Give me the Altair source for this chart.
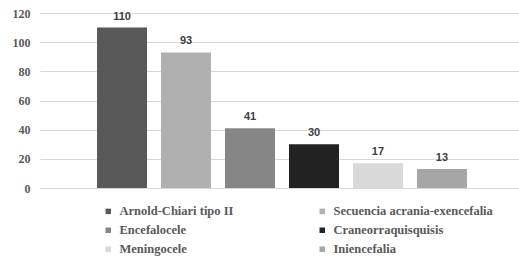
import altair as alt
import pandas as pd

categories = ["Arnold-Chiari tipo II", "Secuencia acrania-exencefalia", "Encefalocele",
              "Craneorraquisquisis", "Meningocele", "Iniencefalia"]
values = [110, 93, 41, 30, 17, 13]
colors = ["#595959", "#b0b0b0", "#868686", "#222222", "#d9d9d9", "#a6a6a6"]
y_ticks = [0, 20, 40, 60, 80, 100, 120]

df = pd.DataFrame({"cat": categories, "val": values})

x_enc = alt.X("cat:N", sort=categories,
              scale=alt.Scale(paddingInner=0.21875, paddingOuter=0.852, align=0.523),
              axis=None)
y_enc = alt.Y("val:Q", scale=alt.Scale(domain=[0, 120], nice=False),
              axis=alt.Axis(values=y_ticks, title=None, domain=False, ticks=False,
                            labelOverlap=False,
                            labelFont="Liberation Serif", labelFontWeight="bold",
                            labelFontSize=12, labelColor="#595959", labelPadding=10,
                            grid=True, gridColor="#d9d9d9", gridWidth=1))

bars = alt.Chart(df).mark_bar().encode(
    x=x_enc,
    y=y_enc,
    color=alt.Color("cat:N", sort=categories,
                    scale=alt.Scale(domain=categories, range=colors),
                    legend=alt.Legend(title=None, orient="none", legendX=62, legendY=192,
                                      direction="horizontal",
                                      columns=2, columnPadding=82, rowPadding=6,
                                      symbolType="square", symbolSize=30,
                                      symbolStrokeWidth=0, labelOffset=5,
                                      labelFont="Liberation Serif", labelFontWeight="bold",
                                      labelFontSize=12.5, labelColor="#595959",
                                      padding=0, labelLimit=300)),
)

labels = alt.Chart(df).mark_text(
    dy=-6, baseline="bottom", font="Liberation Sans", fontWeight="bold",
    fontSize=11, color="#404040"
).encode(
    x=x_enc,
    y=y_enc,
    text="val:Q",
)

chart = (bars + labels).properties(
    width=479, height=175,
    autosize=alt.AutoSizeParams(type="none"),
    padding={"left": 40, "top": 13, "right": 0, "bottom": 78},
    background="white",
).configure_view(stroke=None)

chart.save("out.html", embed_options={"renderer": "svg", "actions": False})
